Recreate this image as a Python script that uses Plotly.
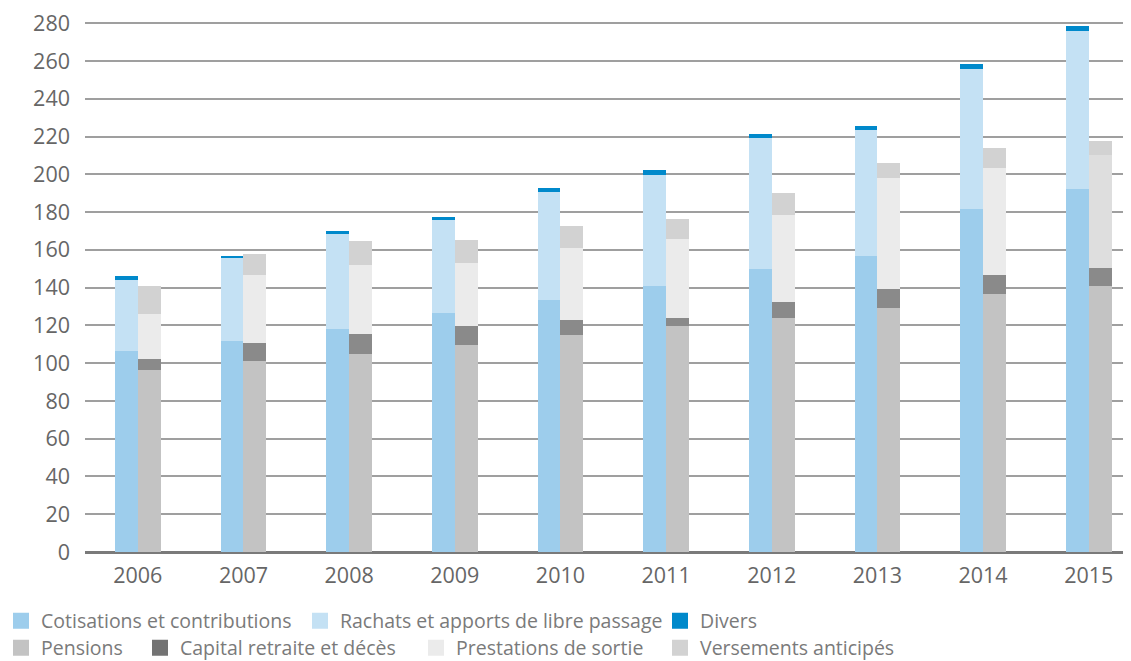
import plotly.graph_objects as go

years = ["2006", "2007", "2008", "2009", "2010", "2011", "2012", "2013", "2014", "2015"]

# Left stack (inflows)
cotisations = [106.4, 111.7, 118.1, 126.5, 133.4, 140.8, 149.8, 156.7, 181.6, 192.2]
rachats = [37.6, 43.9, 50.2, 49.3, 57.2, 58.8, 69.4, 66.7, 74.1, 83.6]
divers = [2.1, 1.1, 1.6, 1.5, 2.1, 2.6, 2.1, 2.1, 2.6, 2.7]

# Right stack (outflows)
pensions = [96.3, 101.1, 104.8, 109.6, 114.9, 119.6, 123.9, 129.2, 136.6, 140.8]
capital = [5.9, 9.5, 10.6, 10.0, 7.9, 4.3, 8.4, 10.0, 10.0, 9.5]
prestations = [23.8, 36.0, 36.5, 33.4, 38.1, 41.8, 46.1, 58.8, 56.7, 59.9]
versements = [14.8, 11.2, 12.7, 12.2, 11.7, 10.6, 11.6, 7.9, 10.6, 7.4]

y_ticks = list(range(0, 281, 20))

idx = list(range(len(years)))
bw = 0.216
x_left = [i - bw / 2 for i in idx]
x_right = [i + bw / 2 for i in idx]

FONT = "Open Sans, Lato, sans-serif"

# the page body adds an 8px offset; layout is compensated for it
OFF = 8
W, H = 1131, 661

fig = go.Figure()

# (name, values, bar colour, legend swatch colour, legend entry width)
left_series = [
    ("Cotisations et contributions", cotisations, "#9dcdec", "#9dcdec", 254),
    ("Rachats et apports de libre passage", rachats, "#c4e1f4", "#c4e1f4", 315),
    ("Divers", divers, "#0089cb", "#0089cb", 60),
]
right_series = [
    ("Pensions", pensions, "#c3c3c3", "#c3c3c3", 94),
    ("Capital retraite et décès", capital, "#8a8a8a", "#737373", 231),
    ("Prestations de sortie", prestations, ["#ebebeb"] * 9 + ["#dedede"], "#ebebeb", 199),
    ("Versements anticipés", versements, "#d2d2d2", "#d2d2d2", 200),
]

for series, xs, leg in ((left_series, x_left, "legend"), (right_series, x_right, "legend2")):
    for name, vals, col, swatch, lw in series:
        fig.add_trace(go.Bar(x=xs, y=vals, name=name, width=bw,
                             marker=dict(color=col, line=dict(width=0)),
                             showlegend=False, legendgroup=name))
        # legend-only entry with a larger square swatch
        fig.add_trace(go.Scatter(x=[None], y=[None], mode="markers", name=name,
                                 marker=dict(symbol="square", size=16, color=swatch,
                                             line=dict(width=0)),
                                 legend=leg, legendwidth=lw, legendgroup=name,
                                 hoverinfo="skip"))

plot_left = 85 - OFF
plot_top = 14 - OFF
plot_bottom = 552 - OFF
plot_right = W - OFF
plot_w = plot_right - plot_left
plot_h = plot_bottom - plot_top

legend_x = (1 - OFF - plot_left) / plot_w


def legend_y(screen_y):
    return (plot_bottom - (screen_y - OFF)) / plot_h


legend_common = dict(orientation="h", xref="paper", yref="paper",
                     x=legend_x, xanchor="left", yanchor="middle",
                     font=dict(size=19.5, color="#7a7a7a"), bgcolor="rgba(0,0,0,0)",
                     traceorder="normal", itemsizing="trace",
                     itemclick=False, itemdoubleclick=False)

fig.update_layout(
    width=W, height=H,
    barmode="stack",
    bargap=0,
    plot_bgcolor="white",
    paper_bgcolor="white",
    margin=dict(l=plot_left, r=W - plot_right, t=plot_top, b=H - plot_bottom,
                autoexpand=False),
    font=dict(family=FONT, size=21.5, color="#666666"),
    xaxis=dict(
        range=[-0.5, 9.4],
        tickmode="array", tickvals=idx, ticktext=years,
        showgrid=False, zeroline=False, showline=False,
        ticks="", ticklabelstandoff=8, tickfont=dict(size=21.5, color="#666666"),
        automargin=False, ticklabeloverflow="allow",
    ),
    yaxis=dict(
        range=[0, 285],
        tickmode="array", tickvals=y_ticks,
        showgrid=True, gridcolor="#9f9f9f", gridwidth=1.5,
        zeroline=True, zerolinecolor="#7a7a7a", zerolinewidth=2.5,
        showline=False, ticks="", ticklabelstandoff=14,
        tickfont=dict(size=21.5, color="#666666"),
        automargin=False, ticklabeloverflow="allow",
    ),
    showlegend=True,
    legend=dict(legend_common, y=legend_y(621)),
    legend2=dict(legend_common, y=legend_y(648)),
)

fig.write_html("out.html")
